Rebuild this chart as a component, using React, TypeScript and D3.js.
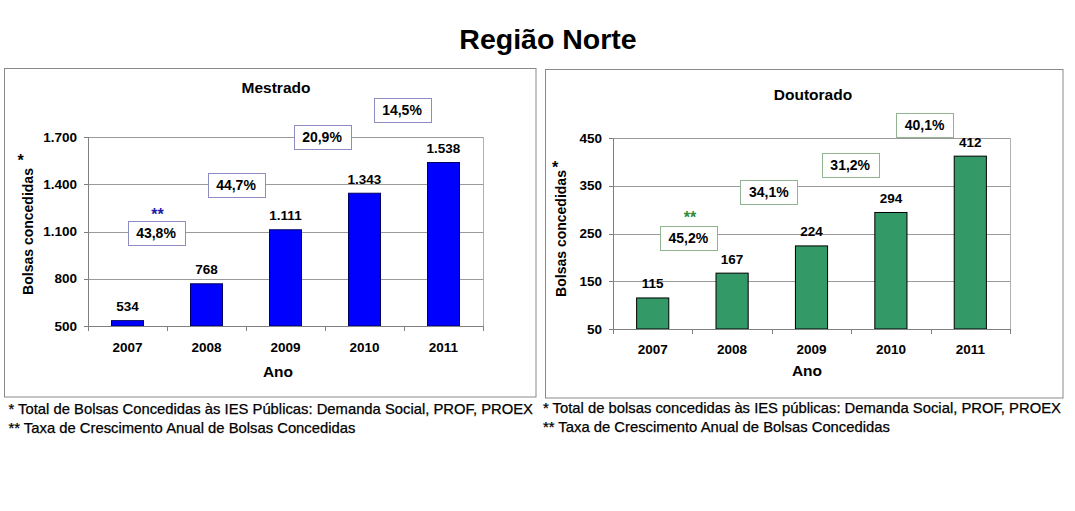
import React from "react";
import * as d3 from "d3";

const years = ["2007", "2008", "2009", "2010", "2011"];
const mestrado = [534, 768, 1111, 1343, 1538];
const doutorado = [115, 167, 224, 294, 412];
const mestradoGrowth = ["43,8%", "44,7%", "20,9%", "14,5%"];
const doutoradoGrowth = ["45,2%", "34,1%", "31,2%", "40,1%"];
const mestradoTicks = [500, 800, 1100, 1400, 1700];
const doutoradoTicks = [50, 150, 250, 350, 450];

const mainTitle = "Região Norte";
const footLeft = [
  "* Total de Bolsas Concedidas às IES Públicas: Demanda Social, PROF, PROEX",
  "** Taxa de Crescimento Anual de Bolsas Concedidas",
];
const footRight = [
  "* Total de bolsas concedidas às IES públicas: Demanda Social, PROF, PROEX",
  "** Taxa de Crescimento Anual de Bolsas Concedidas",
];

const ptBR = d3.formatLocale({ decimal: ",", thousands: ".", grouping: [3], currency: ["", ""] });
const fmt = ptBR.format(",");

const FONT = "'Liberation Sans', Arial, Helvetica, sans-serif";

type PanelCfg = {
  title: string;
  values: number[];
  growth: string[];
  ticks: number[];
  frame: { x: number; y: number; w: number; h: number };
  plot: { x0: number; x1: number; y0: number; y1: number };
  titlePos: [number, number];
  anoPos: [number, number];
  yLabelX: number;
  starPos: [number, number];
  catY: number;
  barFill: string;
  barStroke: string;
  boxStroke: string;
  starColor: string;
  growthAnchors: { dx: number; v: number }[];
  growthStar: [number, number];
  foot: string[];
  footPos: [number, number];
};

const panels: PanelCfg[] = [
  {
    title: "Mestrado",
    values: mestrado,
    growth: mestradoGrowth,
    ticks: mestradoTicks,
    frame: { x: 4.5, y: 68.5, w: 531.5, h: 328.5 },
    plot: { x0: 88, x1: 483, y0: 137, y1: 326 },
    titlePos: [276, 87],
    anoPos: [278, 371],
    yLabelX: 28,
    starPos: [20.5, 160],
    catY: 347,
    barFill: "#0000ff",
    barStroke: "#000060",
    boxStroke: "#8c8cc0",
    starColor: "#1c1ca8",
    growthAnchors: [
      { dx: -11, v: 1090 },
      { dx: -10, v: 1395 },
      { dx: -3, v: 1700 },
      { dx: -2, v: 1871 },
    ],
    growthStar: [157.5, 214],
    foot: footLeft,
    footPos: [8.5, 409],
  },
  {
    title: "Doutorado",
    values: doutorado,
    growth: doutoradoGrowth,
    ticks: doutoradoTicks,
    frame: { x: 545.5, y: 69.5, w: 517.5, h: 328.5 },
    plot: { x0: 613, x1: 1010, y0: 138, y1: 329 },
    titlePos: [813, 94],
    anoPos: [807, 370],
    yLabelX: 561,
    starPos: [555, 167],
    catY: 349,
    barFill: "#339966",
    barStroke: "#000000",
    boxStroke: "#8fb48f",
    starColor: "#2e8b3a",
    growthAnchors: [
      { dx: -4, v: 240.6 },
      { dx: -3, v: 336 },
      { dx: -1, v: 393.5 },
      { dx: -6, v: 477 },
    ],
    growthStar: [690, 217],
    foot: footRight,
    footPos: [543, 408],
  },
];

function Panel({ cfg }: { cfg: PanelCfg }) {
  const { plot } = cfg;
  const x = d3.scaleBand<string>().domain(years).range([plot.x0, plot.x1]).padding(0);
  const y = d3
    .scaleLinear()
    .domain([cfg.ticks[0], cfg.ticks[cfg.ticks.length - 1]])
    .range([plot.y1, plot.y0]);
  const bw = x.bandwidth() * 0.405;
  const boxW = 57;
  const boxH = 24;
  const boundaries = years.map((yr) => x(yr)!).concat([plot.x1]);
  return (
    <g>
      <rect
        x={cfg.frame.x}
        y={cfg.frame.y}
        width={cfg.frame.w}
        height={cfg.frame.h}
        fill="#fff"
        stroke="#8a8a8a"
        strokeWidth={1}
      />
      <text
        x={cfg.titlePos[0]}
        y={cfg.titlePos[1]}
        textAnchor="middle"
        dominantBaseline="central"
        fontFamily={FONT}
        fontWeight="bold"
        fontSize={15.5}
      >
        {cfg.title}
      </text>
      {cfg.ticks.map((t, i) =>
        i === 0 ? null : (
          <line
            key={"g" + t}
            x1={plot.x0}
            x2={plot.x1}
            y1={Math.round(y(t)) + 0.5}
            y2={Math.round(y(t)) + 0.5}
            stroke="#9a9a9a"
            strokeWidth={1}
          />
        )
      )}
      <line x1={plot.x1 + 0.5} x2={plot.x1 + 0.5} y1={plot.y0} y2={plot.y1} stroke="#b0b0b0" />
      <line x1={plot.x0 + 0.5} x2={plot.x0 + 0.5} y1={plot.y0} y2={plot.y1} stroke="#808080" />
      {cfg.ticks.map((t) => (
        <g key={"t" + t}>
          <line
            x1={plot.x0 - 4}
            x2={plot.x0}
            y1={Math.round(y(t)) + 0.5}
            y2={Math.round(y(t)) + 0.5}
            stroke="#808080"
          />
          <text
            x={plot.x0 - 11}
            y={y(t)}
            textAnchor="end"
            dominantBaseline="central"
            fontFamily={FONT}
            fontWeight="bold"
            fontSize={13.5}
          >
            {fmt(t)}
          </text>
        </g>
      ))}
      {cfg.values.map((v, i) => {
        const cx = x(years[i])! + x.bandwidth() / 2;
        const top = y(v);
        return (
          <g key={"b" + i}>
            <rect
              x={cx - bw / 2}
              y={top}
              width={bw}
              height={y(cfg.ticks[0]) - top}
              fill={cfg.barFill}
              stroke={cfg.barStroke}
              strokeWidth={1}
            />
            <text
              x={cx}
              y={top - 14}
              textAnchor="middle"
              dominantBaseline="central"
              fontFamily={FONT}
              fontWeight="bold"
              fontSize={13.5}
            >
              {fmt(v)}
            </text>
            <text
              x={cx}
              y={cfg.catY}
              textAnchor="middle"
              dominantBaseline="central"
              fontFamily={FONT}
              fontWeight="bold"
              fontSize={13.5}
            >
              {years[i]}
            </text>
          </g>
        );
      })}
      <line
        x1={plot.x0}
        x2={plot.x1}
        y1={Math.round(plot.y1) + 0.5}
        y2={Math.round(plot.y1) + 0.5}
        stroke="#808080"
      />
      {boundaries.map((b, i) => (
        <line
          key={"xt" + i}
          x1={Math.round(b) + 0.5}
          x2={Math.round(b) + 0.5}
          y1={plot.y1}
          y2={plot.y1 + 5}
          stroke="#808080"
        />
      ))}
      <text
        x={cfg.anoPos[0]}
        y={cfg.anoPos[1]}
        textAnchor="middle"
        dominantBaseline="central"
        fontFamily={FONT}
        fontWeight="bold"
        fontSize={15.5}
      >
        Ano
      </text>
      <text
        transform={`translate(${cfg.yLabelX},${(plot.y0 + plot.y1) / 2}) rotate(-90)`}
        textAnchor="middle"
        dominantBaseline="central"
        fontFamily={FONT}
        fontWeight="bold"
        fontSize={14}
      >
        Bolsas concedidas
      </text>
      <text
        x={cfg.starPos[0]}
        y={cfg.starPos[1]}
        textAnchor="middle"
        dominantBaseline="central"
        fontFamily={FONT}
        fontWeight="bold"
        fontSize={16}
      >
        *
      </text>
      {cfg.growth.map((g, i) => {
        const a = cfg.growthAnchors[i];
        const cx = boundaries[i + 1] + a.dx;
        const cy = y(a.v);
        return (
          <g key={"gr" + i}>
            <rect
              x={Math.round(cx - boxW / 2) + 0.5}
              y={Math.round(cy - boxH / 2) + 0.5}
              width={boxW}
              height={boxH}
              fill="#fff"
              stroke={cfg.boxStroke}
              strokeWidth={1}
            />
            <text
              x={cx}
              y={cy}
              textAnchor="middle"
              dominantBaseline="central"
              fontFamily={FONT}
              fontWeight="bold"
              fontSize={14}
            >
              {g}
            </text>
          </g>
        );
      })}
      <text
        x={cfg.growthStar[0]}
        y={cfg.growthStar[1]}
        textAnchor="middle"
        dominantBaseline="central"
        fontFamily={FONT}
        fontWeight="bold"
        fontSize={16}
        fill={cfg.starColor}
      >
        **
      </text>
      {cfg.foot.map((f, i) => (
        <text
          key={"f" + i}
          x={cfg.footPos[0]}
          y={cfg.footPos[1] + i * 19}
          dominantBaseline="central"
          fontFamily={FONT}
          fontSize={14.8}
          fill="#000"
          stroke="#000"
          strokeWidth={0.25}
        >
          {f}
        </text>
      ))}
    </g>
  );
}

export default function App() {
  return (
    <svg
      width={1075}
      height={511}
      style={{ position: "absolute", left: 0, top: 0, background: "#fff" }}
    >
      <rect x={0} y={0} width={1075} height={511} fill="#fff" />
      <text
        x={548}
        y={39}
        textAnchor="middle"
        dominantBaseline="central"
        fontFamily={FONT}
        fontWeight="bold"
        fontSize={28.5}
      >
        {mainTitle}
      </text>
      {panels.map((p) => (
        <Panel key={p.title} cfg={p} />
      ))}
    </svg>
  );
}
